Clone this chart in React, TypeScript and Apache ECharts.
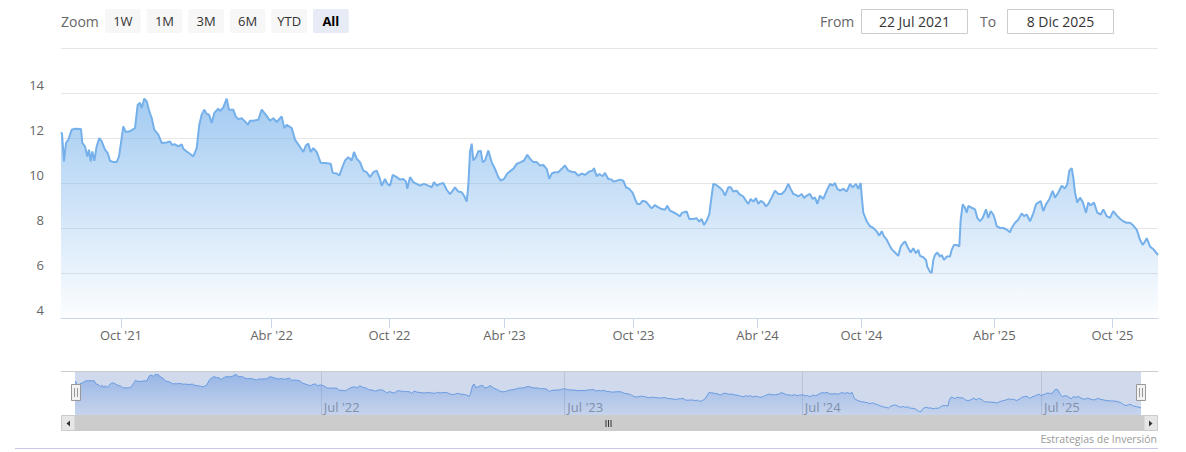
import React, { useEffect, useRef } from "react";
import * as echarts from "echarts";

// Trading-session index (ordinal axis, sessions since 22 Jul 2021) and price
const session = [
  0, 1, 3, 5, 7.3, 10.7, 14, 20, 21.3, 24, 26.3, 28, 29.7, 31.3, 33.3, 35.7, 38.3, 40.7, 44, 46.7,
  49, 52.3, 55.7, 58, 60.7, 62.3, 64.7, 69, 74, 76.7, 79, 80.7, 83.3, 85.7, 88.3, 90.7, 93.3, 97.3,
  100.7, 105.7, 109, 110.7, 114, 117.3, 120.7, 122.3, 125.7, 129, 132.3, 135.7, 138.3, 140.7, 143.3,
  145.7, 148, 150.7, 153.3, 157.3, 159, 162.3, 165.7, 168, 172.3, 174.7, 177.3, 180.7, 184, 186.7,
  189, 192.3, 197.3, 200.7, 204.7, 209, 212.3, 215.7, 220.7, 223.3, 225.7, 230.7, 234, 239, 242.3,
  245, 247.3, 249.7, 252.3, 255.7, 259.7, 264, 269.7, 271.7, 275.7, 278.3, 280.7, 284, 287.3, 290.7,
  293, 295.7, 299, 302.3, 305.7, 309, 312.3, 315.7, 319, 320.7, 324, 326.3, 329, 331.7, 335.7, 339,
  342.3, 345, 346.3, 349, 352.3, 355.7, 359, 363, 367.3, 370.7, 373, 375.7, 379, 382.3, 385.7, 389,
  391.7, 394, 397.3, 400.7, 403, 405.7, 407.3, 409, 410.7, 412.3, 415, 417.3, 419.7, 421.7, 424,
  427.3, 430.7, 434, 437.3, 439.7, 443, 446.3, 449.7, 452.3, 455.7, 459.7, 463, 466.3, 469, 472.3,
  475.7, 479, 482.3, 485.7, 488.3, 490.7, 494, 497.3, 500.7, 504, 507.3, 510.7, 514, 517.3, 520.7,
  524, 528.3, 531.7, 533, 535.7, 538.3, 541.7, 544, 547.3, 550.7, 552.3, 555.7, 559, 562.3, 565,
  568.3, 571.7, 574, 576.3, 579, 581.7, 585, 588.3, 590.7, 594, 597.3, 600.7, 604, 606.3, 609, 612.3,
  615.7, 619, 620.7, 623, 625.7, 628.3, 632.3, 635.7, 638.3, 640.7, 643, 645.7, 648.3, 650.7, 652.3,
  655, 658.3, 661.7, 664, 667.3, 669.7, 672.3, 675.7, 678.3, 682.3, 685, 687.3, 689.7, 692.3, 695,
  697.3, 699.7, 702.3, 705, 707.3, 710.7, 714, 717.3, 720.7, 724, 727.3, 729.7, 732.3, 735, 737.3,
  740.7, 743, 745.7, 749, 751.7, 754, 756.3, 759, 762.3, 765.7, 769, 771.7, 774, 776.3, 779, 782.3,
  785.7, 789, 791.7, 795, 797.3, 799.7, 800.7, 802.3, 805.7, 809, 812.3, 815.7, 818.3, 820.7, 823,
  825.7, 828.3, 830.7, 834, 837.3, 839.7, 842.3, 844, 847.3, 849.7, 852.3, 855, 857.3, 859, 862.3,
  865, 866.3, 869, 870.7, 872.3, 874, 876.3, 879, 880.7, 883, 885.7, 889, 890.7, 893, 895.7, 898.3,
  899.7, 901.7, 904, 905.7, 907.3, 910.7, 914, 916.3, 919, 921.7, 925, 927.3, 929.7, 932.3, 934,
  935.7, 939, 942.3, 945.7, 949, 950.7, 954, 957.3, 960.7, 963, 965.7, 969, 972.3, 975, 977.3, 979.7,
  982.3, 985, 988.3, 991.7, 994, 997.3, 1000.7, 1004, 1006.3, 1008.3, 1010.7, 1012.3, 1014, 1016.3,
  1019, 1021.7, 1025, 1027.3, 1029.7, 1033, 1036.3, 1039.7, 1042.3, 1045.7, 1049, 1052.3, 1055.7,
  1059, 1062.3, 1065.7, 1069, 1072.3, 1075.7, 1079, 1081.7, 1084, 1085.7, 1089, 1092.3, 1097,
];
const price = [
  12.25, 12.2, 10.96, 11.78, 11.92, 12.37, 12.41, 12.4, 11.78, 11.63, 11.18, 11.48, 10.96, 11.4, 10.99,
  11.63, 12.0, 11.85, 11.48, 11.33, 10.99, 10.93, 10.93, 11.18, 12.0, 12.52, 12.27, 12.3, 12.44, 13.48,
  13.56, 13.33, 13.75, 13.63, 13.18, 12.89, 12.37, 12.15, 11.78, 11.8, 11.85, 11.7, 11.72, 11.63, 11.72,
  11.52, 11.4, 11.3, 11.18, 11.55, 12.59, 13.04, 13.26, 13.07, 13.04, 12.67, 13.11, 13.3, 13.2, 13.36,
  13.75, 13.26, 13.26, 12.96, 12.84, 12.88, 12.74, 12.59, 12.77, 12.77, 12.81, 13.26, 13.04, 12.77,
  12.88, 12.71, 12.96, 12.44, 12.59, 12.44, 11.93, 11.6, 11.38, 11.67, 11.75, 11.38, 11.55, 11.38, 10.9,
  10.89, 10.86, 10.45, 10.42, 10.33, 10.63, 11.0, 11.15, 11.0, 11.38, 11.08, 10.93, 10.55, 10.48, 10.26,
  10.48, 10.55, 10.18, 9.88, 10.18, 9.96, 9.88, 10.36, 10.26, 10.15, 10.18, 10.06, 9.74, 10.26, 10.04,
  9.96, 9.88, 9.96, 9.88, 9.81, 10.04, 9.88, 9.96, 10.0, 9.7, 9.51, 9.66, 9.81, 9.62, 9.59, 9.44, 9.17,
  9.88, 11.38, 11.75, 11.0, 11.15, 11.4, 11.44, 10.93, 11.0, 11.44, 10.93, 10.63, 10.26, 10.11, 10.18,
  10.42, 10.55, 10.63, 10.85, 10.93, 11.0, 11.25, 11.08, 10.93, 10.93, 10.78, 10.8, 10.63, 10.18, 10.42,
  10.48, 10.48, 10.63, 10.78, 10.55, 10.5, 10.48, 10.33, 10.42, 10.36, 10.51, 10.55, 10.66, 10.3, 10.4,
  10.3, 10.45, 10.18, 10.15, 10.06, 10.1, 10.15, 10.1, 9.81, 9.74, 9.56, 9.29, 9.07, 9.07, 9.21, 9.17,
  8.99, 8.87, 9.02, 8.92, 8.84, 8.81, 8.99, 8.77, 8.7, 8.62, 8.52, 8.66, 8.7, 8.73, 8.4, 8.4, 8.43, 8.28,
  8.4, 8.13, 8.33, 8.62, 9.44, 9.96, 9.92, 9.81, 9.66, 9.44, 9.81, 9.81, 9.62, 9.66, 9.51, 9.4, 9.21,
  9.07, 9.29, 9.17, 9.33, 9.07, 9.21, 9.14, 8.96, 9.07, 9.36, 9.66, 9.51, 9.51, 9.66, 9.96, 9.74, 9.51,
  9.47, 9.4, 9.51, 9.33, 9.44, 9.51, 9.29, 9.36, 9.07, 9.44, 9.29, 9.66, 9.96, 9.88, 10.0, 9.74, 9.66,
  9.74, 9.62, 9.96, 9.81, 9.96, 9.74, 10.0, 9.43, 8.68, 8.3, 8.08, 8.0, 7.85, 7.66, 7.86, 7.63, 7.48,
  7.25, 7.06, 6.91, 6.76, 7.18, 7.33, 7.4, 7.1, 6.91, 7.1, 6.88, 7.03, 6.76, 6.7, 6.58, 6.28, 6.05, 6.0,
  6.58, 6.8, 6.91, 6.73, 6.8, 6.58, 6.73, 6.73, 7.03, 7.25, 7.25, 7.18, 8.38, 9.05, 8.9, 8.68, 8.98,
  8.9, 8.83, 8.45, 8.3, 8.45, 8.83, 8.45, 8.75, 8.6, 8.38, 8.08, 8.0, 8.0, 7.93, 7.81, 8.0, 8.23, 8.38,
  8.65, 8.53, 8.6, 8.3, 8.65, 9.05, 9.13, 9.2, 8.75, 9.05, 9.28, 9.65, 9.35, 9.58, 9.88, 9.76, 9.95,
  10.55, 10.66, 10.25, 9.58, 9.13, 9.35, 9.16, 8.68, 9.13, 9.01, 9.13, 8.68, 8.6, 8.83, 8.53, 8.45,
  8.75, 8.56, 8.41, 8.3, 8.23, 8.23, 8.11, 7.93, 7.48, 7.25, 7.4, 7.55, 7.18, 7.06, 6.8,
];

const sessionMax = 1097;
const monthTicks = [60, 210.7, 328.5, 443.5, 572.5, 696.5, 800.5, 933.3, 1051.5];
const monthLabels = ["Oct '21", "Abr '22", "Oct '22", "Abr '23", "Oct '23", "Abr '24", "Oct '24", "Abr '25", "Oct '25"];
const navTicks = [253, 503.5, 748, 994];
const navLabels = ["Jul '22", "Jul '23", "Jul '24", "Jul '25"];
const yMin = 4;
const yMax = 16;
const yStep = 2;
const zoomButtons = ["1W", "1M", "3M", "6M", "YTD", "All"];
const selectedButton = "All";
const fromDate = "22 Jul 2021";
const toDate = "8 Dic 2025";
const creditText = "Estrategias de Inversión";

const FONT = '"Open Sans", "Noto Sans", sans-serif';

export default function App() {
  const ref = useRef<HTMLDivElement>(null);

  useEffect(() => {
    if (!ref.current) return;
    const chart = echarts.init(ref.current, undefined, { renderer: "svg" });
    const data = session.map((s, i) => [s, price[i]]);

    const graphic: any[] = [];
    // Range selector
    graphic.push({
      type: "text", x: 61, y: 21,
      style: { text: "Zoom", fill: "#666666", fontSize: 14, fontFamily: FONT, textAlign: "left", textVerticalAlign: "middle" },
    });
    zoomButtons.forEach((b, i) => {
      const bx = 105 + i * 41.6;
      const sel = b === selectedButton;
      graphic.push({
        type: "rect", shape: { x: bx, y: 9, width: 35.7, height: 24, r: 2 },
        style: { fill: sel ? "#e6ebf5" : "#f7f7f7" },
      });
      graphic.push({
        type: "text", x: bx + 17.85, y: 21,
        style: { text: b, fill: sel ? "#000000" : "#333333", fontSize: 13, fontWeight: sel ? "bold" : "normal", fontFamily: FONT, textAlign: "center", textVerticalAlign: "middle" },
      });
    });
    // Date inputs
    const inputs = [
      { label: "From", lx: 820, bx: 861.5, val: fromDate },
      { label: "To", lx: 980, bx: 1007.5, val: toDate },
    ];
    inputs.forEach((inp) => {
      graphic.push({
        type: "text", x: inp.lx, y: 21,
        style: { text: inp.label, fill: "#666666", fontSize: 14, fontFamily: FONT, textAlign: "left", textVerticalAlign: "middle" },
      });
      graphic.push({
        type: "rect", shape: { x: inp.bx, y: 9.5, width: 106, height: 24 },
        style: { fill: "#ffffff", stroke: "#cccccc", lineWidth: 1 },
      });
      graphic.push({
        type: "text", x: inp.bx + 53, y: 21.5,
        style: { text: inp.val, fill: "#333333", fontSize: 14, fontFamily: FONT, textAlign: "center", textVerticalAlign: "middle" },
      });
    });
    // Navigator mask
    graphic.push({
      type: "rect", z: 1, shape: { x: 75, y: 371, width: 1066, height: 44 },
      style: { fill: "rgba(102,133,194,0.3)" },
    });
    // Navigator outline
    graphic.push({
      type: "line", z: 6, shape: { x1: 61, y1: 371.5, x2: 1158, y2: 371.5 },
      style: { stroke: "#cccccc", lineWidth: 1 },
    });
    // Handles
    [71.5, 1136.5].forEach((hx) => {
      graphic.push({
        type: "rect", z: 7, shape: { x: hx, y: 384.5, width: 9, height: 16 },
        style: { fill: "#f2f2f2", stroke: "#999999", lineWidth: 1 },
      });
      graphic.push({ type: "line", z: 8, shape: { x1: hx + 3, y1: 388, x2: hx + 3, y2: 397 }, style: { stroke: "#999999", lineWidth: 1 } });
      graphic.push({ type: "line", z: 8, shape: { x1: hx + 6, y1: 388, x2: hx + 6, y2: 397 }, style: { stroke: "#999999", lineWidth: 1 } });
    });
    // Scrollbar
    graphic.push({
      type: "rect", z: 5, shape: { x: 75, y: 415, width: 1069, height: 16 },
      style: { fill: "#cccccc" },
    });
    graphic.push({
      type: "rect", z: 5, shape: { x: 61.5, y: 415.5, width: 13.5, height: 15 },
      style: { fill: "#e6e6e6", stroke: "#cccccc", lineWidth: 1 },
    });
    graphic.push({
      type: "rect", z: 5, shape: { x: 1144, y: 415.5, width: 13.5, height: 15 },
      style: { fill: "#e6e6e6", stroke: "#cccccc", lineWidth: 1 },
    });
    graphic.push({
      type: "polygon", z: 6, shape: { points: [[70, 420.5], [70, 426.5], [66.5, 423.5]] },
      style: { fill: "#333333" },
    });
    graphic.push({
      type: "polygon", z: 6, shape: { points: [[1149, 420.5], [1149, 426.5], [1152.5, 423.5]] },
      style: { fill: "#333333" },
    });
    [606, 608.5, 611].forEach((gx) => {
      graphic.push({ type: "line", z: 6, shape: { x1: gx, y1: 420, x2: gx, y2: 427 }, style: { stroke: "#333333", lineWidth: 1 } });
    });
    // Credits
    graphic.push({
      type: "text", x: 1157, y: 439,
      style: { text: creditText, fill: "#999999", fontSize: 10.5, fontFamily: FONT, textAlign: "right", textVerticalAlign: "middle" },
    });
    // Bottom border
    graphic.push({
      type: "line", shape: { x1: 15, y1: 448.5, x2: 1158, y2: 448.5 },
      style: { stroke: "#c8c8e6", lineWidth: 1 },
    });

    chart.setOption({
      animation: false,
      textStyle: { fontFamily: FONT },
      grid: [
        { left: 61, top: 48, width: 1097, height: 270 },
        { left: 75, top: 371, width: 1066, height: 44 },
      ],
      xAxis: [
        {
          type: "value", gridIndex: 0, min: 0, max: sessionMax,
          splitLine: { show: false },
          axisLine: { show: true, lineStyle: { color: "#ccd6eb", width: 1 } },
          axisTick: { show: true, customValues: monthTicks, length: 10, lineStyle: { color: "#ccd6eb" } },
          axisLabel: {
            customValues: monthTicks, color: "#666666", fontSize: 13, margin: 10,
            formatter: (v: number) => monthLabels[monthTicks.indexOf(v)] ?? "",
          },
        },
        {
          type: "value", gridIndex: 1, min: 0, max: sessionMax,
          splitLine: { show: false },
          axisLine: { show: false },
          axisTick: { show: true, customValues: navTicks, inside: true, length: 44, lineStyle: { color: "#e0e0e0" } },
          axisLabel: {
            customValues: navTicks, inside: true, align: "left", verticalAlign: "bottom", margin: 2,
            padding: [0, 0, 0, 3], color: "#999999", fontSize: 13,
            formatter: (v: number) => navLabels[navTicks.indexOf(v)] ?? "",
          },
        },
      ],
      yAxis: [
        {
          type: "value", gridIndex: 0, min: yMin, max: yMax, interval: yStep,
          axisLine: { show: false }, axisTick: { show: false },
          splitLine: { show: true, lineStyle: { color: "#e6e6e6", width: 1 } },
          axisLabel: {
            color: "#666666", fontSize: 13, margin: 17, showMaxLabel: false,
            verticalAlign: "bottom", lineHeight: 16,
          },
        },
        {
          type: "value", gridIndex: 1, min: 5.32, max: 14.43, show: false,
          splitLine: { show: false },
        },
      ],
      series: [
        {
          type: "line", xAxisIndex: 0, yAxisIndex: 0, data, z: 3,
          symbol: "none", showSymbol: false,
          lineStyle: { color: "#75b0ea", width: 2 },
          itemStyle: { color: "#75b0ea" },
          areaStyle: {
            color: new echarts.graphic.LinearGradient(0, 0, 0, 1, [
              { offset: 0, color: "rgba(124,181,236,1)" },
              { offset: 1, color: "rgba(124,181,236,0.03)" },
            ]),
          },
        },
        {
          type: "line", xAxisIndex: 1, yAxisIndex: 1, data, z: 3,
          symbol: "none", showSymbol: false,
          lineStyle: { color: "#6a9be0", width: 1 },
          itemStyle: { color: "#6a9be0" },
          areaStyle: {
            color: new echarts.graphic.LinearGradient(0, 0, 0, 1, [
              { offset: 0, color: "rgba(60,125,220,0.55)" },
              { offset: 1, color: "rgba(60,125,220,0.1)" },
            ]),
          },
        },
      ],
      graphic,
    });

    return () => chart.dispose();
  }, []);

  return (
    <div
      ref={ref}
      style={{ position: "fixed", left: 0, top: 0, width: 1186, height: 452, background: "#ffffff" }}
    />
  );
}
